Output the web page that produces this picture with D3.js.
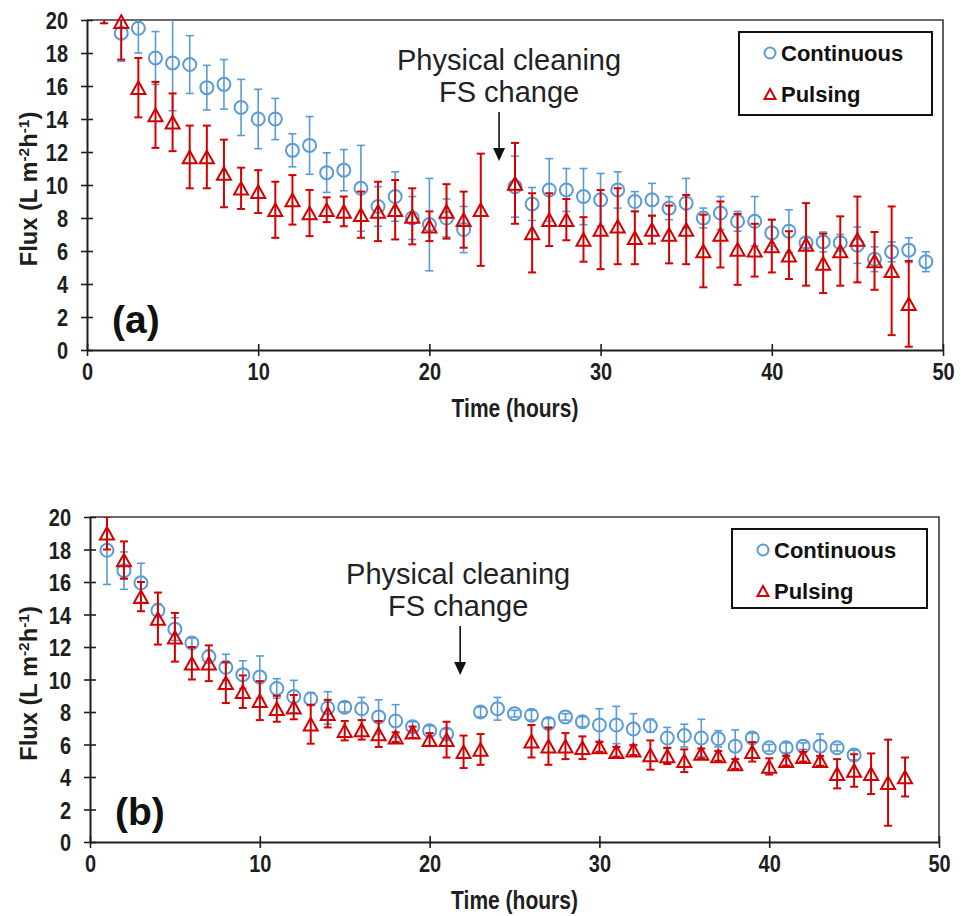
<!DOCTYPE html>
<html>
<head>
<meta charset="utf-8">
<script src="https://cdn.jsdelivr.net/npm/d3@7"></script>
<style>
  body { margin: 0; background: #fff; }
  svg { display: block; }
</style>
</head>
<body>
<svg id="chart" width="963" height="916"></svg>
<script>
// ---- Axis ticks ----
const xTicks = [0, 10, 20, 30, 40, 50];
const yTicks = [0, 2, 4, 6, 8, 10, 12, 14, 16, 18, 20];

// ---- Panel (a): flux vs time, mean and error (L m-2 h-1) ----
const hoursA = [1, 2, 3, 4, 5, 6, 7, 8, 9, 10, 11, 12, 13, 14, 15, 16, 17, 18, 19, 20, 21, 22, 23, 24, 25,
                26, 27, 28, 29, 30, 31, 32, 33, 34, 35, 36, 37, 38, 39, 40, 41, 42, 43, 44, 45, 46, 47, 48, 49];
const continuousA = [null, 19.2, 19.5, 17.7, 17.4, 17.3, 15.9, 16.1, 14.7, 14.0, 14.0, 12.1, 12.4, 10.75, 10.9,
                     9.8, 8.7, 9.3, 8.0, 7.6, 8.0, 7.3, null, null, 9.9, 8.85, 9.7, 9.7, 9.3, 9.1, 9.7, 9.0, 9.1,
                     8.6, 8.9, 8.0, 8.3, 7.8, 7.8, 7.1, 7.2, 6.5, 6.55, 6.5, 6.35, 5.5, 5.95, 6.05, 5.35];
const continuousErrA = [null, 1.7, 1.5, 1.6, 2.9, 1.75, 1.35, 1.5, 1.7, 1.8, 1.25, 1.0, 1.75, 1.2, 1.25,
                        2.6, 1.2, 1.5, 1.3, 2.8, 1.15, 1.4, null, null, 1.85, 1.0, 1.9, 1.3, 1.7, 1.6, 1.1, 0.6, 1.0,
                        0.7, 1.5, 0.6, 1.0, 0.6, 1.5, 0.8, 1.3, 0.3, 0.6, 0.5, 1.1, 0.75, 0.6, 0.75, 0.6];
const pulsingA = [21.2, 19.9, 15.9, 14.25, 13.8, 11.7, 11.7, 10.7, 9.8, 9.6, 8.5, 9.1, 8.3, 8.5, 8.4,
                  8.2, 8.4, 8.5, 8.1, 7.5, 8.4, 7.9, 8.5, null, 10.1, 7.1, 7.9, 7.9, 6.7, 7.3, 7.5, 6.8, 7.3,
                  7.0, 7.3, 6.0, 7.0, 6.1, 6.05, 6.3, 5.75, 6.4, 5.25, 6.0, 6.7, 5.4, 4.8, 2.8, null];
const pulsingErrA = [1.4, 2.3, 1.8, 2.0, 1.75, 1.9, 1.9, 2.05, 1.25, 1.3, 1.7, 1.5, 1.4, 0.75, 0.9,
                     1.4, 1.8, 1.8, 1.7, 0.9, 1.65, 1.7, 3.4, null, 2.45, 2.4, 1.6, 1.25, 1.35, 2.4, 2.3, 1.6, 0.85,
                     1.75, 2.1, 2.2, 2.0, 2.15, 1.6, 1.6, 1.45, 2.5, 1.8, 2.1, 2.6, 1.75, 3.9, 2.6, null];

// ---- Panel (b) ----
const hoursB = [1, 2, 3, 4, 5, 6, 7, 8, 9, 10, 11, 12, 13, 14, 15, 16, 17, 18, 19, 20, 21, 22, 23, 24,
                25, 26, 27, 28, 29, 30, 31, 32, 33, 34, 35, 36, 37, 38, 39, 40, 41, 42, 43, 44, 45, 46, 47, 48];
const continuousB = [17.95, 16.7, 15.95, 14.25, 13.1, 12.25, 11.4, 10.75, 10.3, 10.15, 9.45, 8.95, 8.8, 8.25,
                     8.3, 8.2, 7.7, 7.45, 7.1, 6.85, 6.65, null, 8.0, 8.2, 7.9, 7.8, 7.3, 7.7, 7.4, 7.2, 7.2,
                     6.95, 7.15, 6.4, 6.55, 6.4, 6.35, 5.9, 6.4, 5.8, 5.8, 5.9, 5.9, 5.8, 5.35, null, null, null];
const continuousErrB = [2.1, 1.15, 1.2, 0.4, 0.7, 0.3, 0.4, 0.8, 0.85, 1.3, 0.6, 1.0, 0.4, 1.0,
                        0.3, 0.7, 1.05, 1.0, 0.3, 0.3, 0.3, null, 0.3, 0.7, 0.2, 0.3, 0.3, 0.2, 0.3, 1.0, 1.15,
                        0.95, 0.4, 0.65, 0.7, 1.15, 0.5, 1.0, 0.3, 0.2, 0.3, 0.2, 0.75, 0.2, 0.3, null, null, null];
const pulsingB = [19.0, 17.35, 15.1, 13.75, 12.6, 11.0, 11.0, 9.8, 9.25, 8.7, 8.2, 8.3, 7.25, 7.9,
                  6.85, 6.9, 6.65, 6.45, 6.75, 6.3, 6.3, 5.55, 5.7, null, null, 6.2, 5.9, 5.9, 5.8, 5.85, 5.55,
                  5.65, 5.35, 5.3, 5.0, 5.45, 5.3, 4.8, 5.55, 4.65, 5.0, 5.25, 5.0, 4.2, 4.4, 4.2, 3.65, 4.0];
const pulsingErrB = [1.0, 1.15, 0.9, 1.6, 1.5, 1.0, 1.1, 1.25, 1.0, 1.2, 0.8, 0.75, 1.2, 0.85,
                     0.6, 0.6, 0.8, 0.3, 0.35, 0.4, 1.1, 1.0, 0.95, null, null, 1.0, 1.15, 0.8, 0.7, 0.3, 0.3,
                     0.3, 0.9, 0.5, 0.7, 0.3, 0.3, 0.3, 0.6, 0.5, 0.3, 0.3, 0.3, 0.9, 1.0, 1.25, 2.65, 1.2];

const seriesNames = ["Continuous", "Pulsing"];

// ---- Styling ----
const FONT = "'Liberation Sans', Arial, Helvetica, sans-serif";
const BLUE = "#5b9bd5";
const RED = "#d40000";
const INK = "#1e1e1e";

const svg = d3.select("#chart");

const triPath = (s) => {
  const h = s * 0.9;
  return `M0,${-h / 2}L${s / 2},${h / 2}L${-s / 2},${h / 2}Z`;
};

function drawSeries(g, x, y, clipId, hours, vals, errs, kind, color, barWidth) {
  const data = hours.map((h, i) => ({ h, v: vals[i], e: errs[i] })).filter(d => d.v != null);
  const bars = g.append("g").attr("clip-path", `url(#${clipId})`)
    .attr("stroke", color).attr("stroke-width", barWidth).attr("fill", "none");
  const eb = bars.selectAll("g").data(data).join("g");
  eb.append("line")
    .attr("x1", d => x(d.h)).attr("x2", d => x(d.h))
    .attr("y1", d => y(d.v - d.e)).attr("y2", d => y(d.v + d.e));
  eb.append("line")
    .attr("x1", d => x(d.h) - 4).attr("x2", d => x(d.h) + 4)
    .attr("y1", d => y(d.v + d.e)).attr("y2", d => y(d.v + d.e));
  eb.append("line")
    .attr("x1", d => x(d.h) - 4).attr("x2", d => x(d.h) + 4)
    .attr("y1", d => y(d.v - d.e)).attr("y2", d => y(d.v - d.e));

  const shown = data.filter(d => d.v <= 20);
  const marks = g.append("g").attr("fill", "none").attr("stroke", color).attr("stroke-width", 2);
  if (kind === "circle") {
    marks.selectAll("circle").data(shown).join("circle")
      .attr("cx", d => x(d.h)).attr("cy", d => y(d.v)).attr("r", 6.5);
  } else {
    marks.selectAll("path").data(shown).join("path")
      .attr("transform", d => `translate(${x(d.h)},${y(d.v)})`)
      .attr("d", triPath(14))
      .attr("stroke-linejoin", "miter");
  }
}

function panel(o) {
  const x = d3.scaleLinear().domain([0, 50]).range([o.left, o.right]);
  const y = d3.scaleLinear().domain([0, 20]).range([o.bottom, o.top]);
  const g = svg.append("g");
  const clipId = "clip-" + o.key;

  svg.append("defs").append("clipPath").attr("id", clipId).append("rect")
    .attr("x", o.left).attr("y", o.top)
    .attr("width", o.right - o.left).attr("height", o.bottom - o.top);

  // plot-area frame (top and right edges)
  g.append("path")
    .attr("d", `M${o.left},${o.top}H${o.right}V${o.bottom}`)
    .attr("fill", "none").attr("stroke", "#3a3a3a").attr("stroke-width", 1.6);

  drawSeries(g, x, y, clipId, o.hours, o.cont, o.contErr, "circle", BLUE, 1.6);
  drawSeries(g, x, y, clipId, o.hours, o.puls, o.pulsErr, "tri", RED, 2);

  // x axis
  const xa = g.append("g").attr("transform", `translate(0,${o.bottom})`)
    .call(d3.axisBottom(x).tickValues(xTicks).tickSize(6).tickSizeOuter(0).tickFormat(d3.format("d")));
  xa.attr("font-family", FONT).attr("font-size", 20).attr("font-weight", "bold");
  xa.select(".domain").attr("stroke", INK).attr("stroke-width", 2);
  xa.selectAll(".tick line").attr("y1", -6).attr("y2", 6).attr("stroke", INK).attr("stroke-width", 1.6);
  xa.selectAll(".tick text").attr("y", null).attr("dy", null).attr("fill", INK)
    .attr("transform", "translate(0,30) scale(1,1.2)");

  // y axis
  const ya = g.append("g").attr("transform", `translate(${o.left},0)`)
    .call(d3.axisLeft(y).tickValues(yTicks).tickSize(6).tickSizeOuter(0).tickFormat(d3.format("d")));
  ya.attr("font-family", FONT).attr("font-size", 20).attr("font-weight", "bold");
  ya.select(".domain").attr("stroke", INK).attr("stroke-width", 2);
  ya.selectAll(".tick line").attr("x1", -6).attr("x2", 6).attr("stroke", INK).attr("stroke-width", 1.6);
  ya.selectAll(".tick text").attr("x", null).attr("dy", null).attr("fill", INK)
    .attr("transform", "translate(-19,8.6) scale(1,1.2)");

  // axis titles
  g.append("text")
    .attr("transform", `translate(${(o.left + o.right) / 2},${o.bottom + 67}) scale(1,1.25)`)
    .attr("text-anchor", "middle").attr("font-family", FONT).attr("font-size", 21)
    .attr("font-weight", "bold").attr("fill", INK).text("Time (hours)");

  const yt = g.append("text")
    .attr("transform", `translate(37,${(o.top + o.bottom) / 2 + 4}) rotate(-90) scale(1.03,1)`)
    .attr("text-anchor", "middle").attr("font-family", FONT).attr("font-size", 23)
    .attr("font-weight", "bold").attr("fill", INK);
  yt.append("tspan").text("Flux (L m");
  yt.append("tspan").attr("dy", -8).attr("font-size", 15).text("-2");
  yt.append("tspan").attr("dy", 8).text("h");
  yt.append("tspan").attr("dy", -8).attr("font-size", 15).text("-1");
  yt.append("tspan").attr("dy", 8).text(")");

  // panel label
  g.append("text").attr("x", o.left + 25).attr("y", o.bottom - 17)
    .attr("font-family", FONT).attr("font-size", 39).attr("font-weight", "bold")
    .attr("fill", "#111").text(o.label);

  // annotation with arrow
  const ax = x(o.arrowAt);
  const ann = g.append("g").attr("font-family", FONT).attr("font-size", 29).attr("fill", "#222")
    .attr("text-anchor", "middle");
  ann.append("text").attr("x", ax + o.textShift).attr("y", o.annY).text("Physical cleaning");
  ann.append("text").attr("x", ax + o.textShift).attr("y", o.annY + 32).text("FS change");
  g.append("line").attr("x1", ax).attr("x2", ax).attr("y1", o.annY + 42).attr("y2", o.annY + 80)
    .attr("stroke", "#111").attr("stroke-width", 1.6);
  g.append("path")
    .attr("d", `M${ax - 6},${o.annY + 78}L${ax + 6},${o.annY + 78}L${ax},${o.annY + 91}Z`)
    .attr("fill", "#111");

  // legend
  const L = o.legend;
  const lg = g.append("g");
  lg.append("rect").attr("x", L.x).attr("y", L.y).attr("width", L.w).attr("height", L.h)
    .attr("fill", "#fff").attr("stroke", "#111").attr("stroke-width", 2);
  lg.append("circle").attr("cx", L.x + 31).attr("cy", L.y + 21).attr("r", 5.5)
    .attr("fill", "none").attr("stroke", BLUE).attr("stroke-width", 2);
  lg.append("path").attr("transform", `translate(${L.x + 31},${L.y + 62})`).attr("d", triPath(11))
    .attr("fill", "none").attr("stroke", RED).attr("stroke-width", 2);
  lg.append("text").attr("x", L.x + 42).attr("y", L.y + 29)
    .attr("font-family", FONT).attr("font-size", 22).attr("font-weight", "bold").attr("fill", "#111")
    .text(seriesNames[0]);
  lg.append("text").attr("x", L.x + 42).attr("y", L.y + 70)
    .attr("font-family", FONT).attr("font-size", 22).attr("font-weight", "bold").attr("fill", "#111")
    .text(seriesNames[1]);
}

panel({
  key: "a", label: "(a)", left: 87, right: 943, top: 20, bottom: 350,
  hours: hoursA, cont: continuousA, contErr: continuousErrA, puls: pulsingA, pulsErr: pulsingErrA,
  arrowAt: 24.07, textShift: 10, annY: 70,
  legend: { x: 739, y: 32, w: 193, h: 83 }
});

panel({
  key: "b", label: "(b)", left: 90, right: 939, top: 517, bottom: 842,
  hours: hoursB, cont: continuousB, contErr: continuousErrB, puls: pulsingB, pulsErr: pulsingErrB,
  arrowAt: 21.8, textShift: -2, annY: 584,
  legend: { x: 732, y: 529, w: 195, h: 79 }
});
</script>
</body>
</html>
